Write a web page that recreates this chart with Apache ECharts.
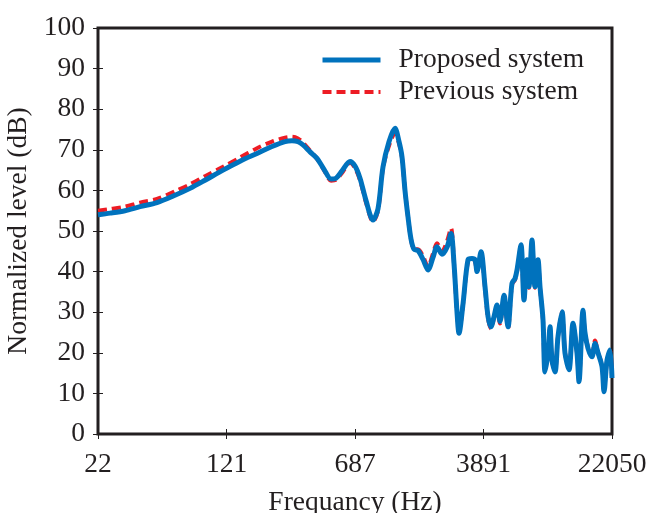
<!DOCTYPE html>
<html>
<head>
<meta charset="utf-8">
<script src="https://cdn.jsdelivr.net/npm/echarts@6/dist/echarts.min.js"></script>
<style>html,body{margin:0;padding:0;background:#fff}#c{width:652px;height:513px}</style>
</head>
<body>
<div id="c"></div>
<script>
// Frequency (Hz) of each sampled point
const freqs = [22,25.9,31.6,38.7,48.6,61.9,75.8,92.7,118.1,148.4,186.5,228.2,271.8,298.6,323.7,346.2,380.4,417.9,459.2,504.5,539.5,584.9,651.3,696.7,745.1,807.7,887.4,949,1015,1100,1193,1259,1310,1364,1420,1479,1540,1625,1738,1859,1988,2098,2243,2400,2532,2636,2745,2820,2975,3182,3358,3496,3592,3790,3999,4164,4335,4514,4699,4893,5163,5447,5748,5985,6149,6488,6755,7033,7226,7523,7833,8154,8376,8721,8961,9329,9584,9846,10251,10672,11262,11724,12372,13055,13776,14152,14934,15341,15972,16855,17549,18270,19280,19807,20622,21470,22050];
// Proposed system level (dB)
const proposed = [54.0,54.4,55.0,56.0,57.0,58.8,60.5,62.5,65.0,67.2,69.1,70.8,72.0,72.2,72.0,71.2,69.5,67.9,65.2,62.8,63.0,64.8,67.1,66.0,63.0,57.5,52.7,55.5,65.8,72.0,75.3,72.0,68.3,60.0,53.5,48.0,45.5,45.2,43.0,40.4,43.5,46.1,44.3,46.0,49.4,42.0,30.0,24.8,32.0,42.9,43.2,42.9,40.0,44.9,36.3,29.0,26.4,28.9,31.8,27.7,34.2,26.4,37.1,38.3,40.4,46.6,33.0,42.9,36.3,47.8,36.3,42.9,36.3,28.1,15.3,20.0,26.4,18.2,15.3,24.0,30.1,19.9,15.8,27.3,19.9,12.9,30.5,24.9,21.1,19.0,22.3,20.0,16.6,10.4,18.2,20.7,13.8];
// Previous system level (dB)
const previous = [55.0,55.4,56.0,57.0,57.9,59.8,61.5,63.5,65.8,68.1,70.4,72.0,73.0,73.2,72.8,71.8,69.8,67.8,65.0,62.4,62.6,64.3,66.8,65.5,62.5,57.0,52.3,55.0,65.5,71.0,74.1,71.5,68.0,60.0,53.5,48.0,45.5,45.5,43.8,41.2,44.5,47.0,45.0,47.5,50.7,42.0,30.0,25.0,32.0,42.5,43.0,42.5,40.0,44.5,36.0,28.5,26.0,28.6,31.5,27.2,34.0,26.0,36.8,38.0,40.0,46.4,33.0,42.6,36.0,47.5,36.0,42.5,36.0,28.0,16.0,20.0,26.0,18.0,15.5,24.0,30.0,20.0,16.0,27.0,20.0,13.5,30.0,25.0,21.5,20.0,23.0,20.0,17.0,11.0,18.0,20.5,14.0];
const xTickLabels = ['22','121','687','3891','22050'];

const fMin = 22, fMax = 22050;
const toPos = f => 4 * Math.log(f / fMin) / Math.log(fMax / fMin);
const ser = arr => freqs.map((f, i) => [toPos(f), arr[i]]);

const FONT = 'Liberation Serif';
const FS = 27.5;
const TXT = '#231f20';
const BLUE = '#0072bd', RED = '#ed1c24';
const chart = echarts.init(document.getElementById('c'));
chart.setOption({
  animation: false,
  backgroundColor: '#fff',
  grid: { left: 98, right: 40, top: 28, bottom: 79, outerBoundsMode: 'none', containLabel: false,
          show: true, borderColor: TXT, borderWidth: 3, backgroundColor: 'transparent' },
  legend: {
    data: [
      { name: 'Proposed system', lineStyle: { width: 5, color: BLUE } },
      { name: 'Previous system', lineStyle: { width: 4, color: RED, type: [9, 5] } }
    ],
    orient: 'vertical', left: 315, top: 41, itemWidth: 58, itemHeight: 14, itemGap: 4,
    itemStyle: { opacity: 0 },
    textStyle: { fontFamily: FONT, fontSize: FS, color: TXT, padding: [0,0,0,13] }
  },
  xAxis: [{
    type: 'value', min: 0, max: 4, interval: 1,
    name: 'Frequancy (Hz)', nameLocation: 'middle', nameGap: 55,
    nameTextStyle: { fontFamily: FONT, fontSize: FS, color: TXT },
    axisLine: { show: false },
    axisTick: { show: true, inside: true, length: 5, lineStyle: { color: TXT, width: 1 } },
    axisLabel: { fontFamily: FONT, fontSize: FS, color: TXT, margin: 17, formatter: v => xTickLabels[v] },
    splitLine: { show: false }
  }, {
    type: 'value', min: 0, max: 4, interval: 1, position: 'top',
    axisLine: { show: false },
    axisTick: { show: true, inside: true, length: 5, lineStyle: { color: TXT, width: 1 } },
    axisLabel: { show: false }, splitLine: { show: false }
  }],
  yAxis: [{
    type: 'value', min: 0, max: 100, interval: 10,
    name: 'Normalized level (dB)', nameLocation: 'middle', nameGap: 58,
    nameTextStyle: { fontFamily: FONT, fontSize: FS, color: TXT },
    axisLine: { show: false },
    axisTick: { show: true, inside: true, length: 5, lineStyle: { color: TXT, width: 1 } },
    axisLabel: { fontFamily: FONT, fontSize: FS, color: TXT, margin: 13 },
    splitLine: { show: false }
  }, {
    type: 'value', min: 0, max: 100, interval: 10, position: 'right',
    axisLine: { show: false },
    axisTick: { show: true, inside: true, length: 5, lineStyle: { color: TXT, width: 1 } },
    axisLabel: { show: false }, splitLine: { show: false }
  }],
  series: [{
    name: 'Previous system', type: 'line', data: ser(previous), showSymbol: false, symbol: 'none',
    smooth: 0.3, z: 2,
    lineStyle: { color: RED, width: 4, type: [9, 5] }, itemStyle: { color: RED }
  }, {
    name: 'Proposed system', type: 'line', data: ser(proposed), showSymbol: false, symbol: 'none',
    smooth: 0.3, z: 3,
    lineStyle: { color: BLUE, width: 5 }, itemStyle: { color: BLUE }
  }]
});
</script>
</body>
</html>
